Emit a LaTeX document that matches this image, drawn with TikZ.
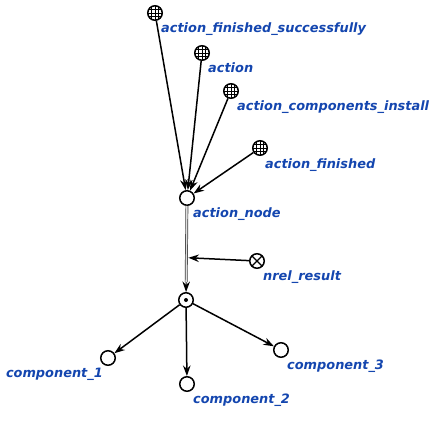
\documentclass[tikz,border=0pt]{standalone}
\usepackage{fontspec}
\newfontfamily\lblfont{DejaVu Sans}
\usetikzlibrary{arrows.meta,calc}
\definecolor{lblblue}{RGB}{20,70,175}
\tikzset{
  el/.style={circle, draw, line width=1.5pt, minimum size=14.5pt, inner sep=0pt, fill=white},
  classnode/.style={el, path picture={
      \foreach \d in {-3.6,0,3.6} {
        \draw[line width=0.9pt] ([xshift=\d pt]path picture bounding box.north) -- ([xshift=\d pt]path picture bounding box.south);
        \draw[line width=0.9pt] ([yshift=\d pt]path picture bounding box.west) -- ([yshift=\d pt]path picture bounding box.east);
      }}},
  tuplenode/.style={el, path picture={\fill[black] (path picture bounding box.center) circle (2pt);}},
  crossnode/.style={el, path picture={
      \draw[line width=1.4pt] (path picture bounding box.north west) -- (path picture bounding box.south east);
      \draw[line width=1.4pt] (path picture bounding box.north east) -- (path picture bounding box.south west);}},
  lbl/.style={text=lblblue, font=\lblfont\bfseries\itshape\fontsize{12.9}{15}\selectfont, inner sep=0pt, anchor=base west},
  arr/.style={-{Stealth[length=10.5pt,width=7.5pt]}, line width=1.5pt},
}
\begin{document}
\begin{tikzpicture}[x=1pt,y=-1pt]
\useasboundingbox (0,0) rectangle (441,422);
\node[classnode] (afs) at (155,13) {};
\node[classnode] (act) at (202,53) {};
\node[classnode] (aci) at (231,91) {};
\node[classnode] (af) at (260,148) {};
\node[el] (an) at (187,198) {};
\node[crossnode] (nr) at (257,261) {};
\node[tuplenode] (tp) at (186,300) {};
\node[el] (c1) at (108,358) {};
\node[el] (c2) at (187,384) {};
\node[el] (c3) at (281,350) {};

\node[lbl] (lafs) at (161,32.5) {action\_finished\_successfully};
\node[lbl] (lact) at (208,72.5) {action};
\node[lbl] (laci) at (237,110.5) {action\_components\_install};
\node[lbl] (laf) at (265,168.5) {action\_finished};
\node[lbl] (lan) at (193,217.5) {action\_node};
\node[lbl] (lnr) at (263,280.5) {nrel\_result};
\node[lbl, anchor=base east] (lc1) at (103,377.5) {component\_1};
\node[lbl] (lc2) at (193,403.5) {component\_2};
\node[lbl] (lc3) at (287,369.5) {component\_3};

\draw[arr] (afs) -- (an);
\draw[arr] (act) -- (an);
\draw[arr] (aci) -- (an);
\draw[arr] (af) -- (an);

\draw[arr, line width=1pt] (an) -- (tp);
\draw[draw=black!75, double=gray!25, double distance=1.4pt, line width=0.7pt, shorten >=10pt] (an) -- (tp);
\coordinate (m) at ($(an)!0.585!(tp)$);
\draw[arr, shorten >=2pt] (nr) -- (m);

\draw[arr] (tp) -- (c1);
\draw[arr] (tp) -- (c2);
\draw[arr] (tp) -- (c3);
\end{tikzpicture}
\end{document}
